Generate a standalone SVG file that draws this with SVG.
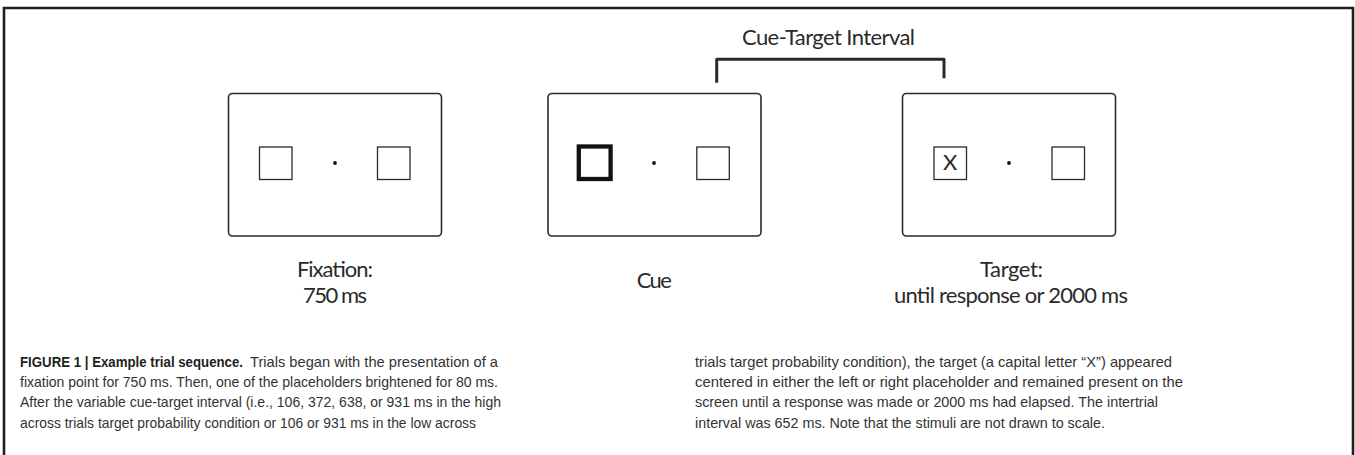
<svg xmlns="http://www.w3.org/2000/svg" width="1355" height="455" viewBox="0 0 1355 455">
<style>
.frame{fill:none;stroke:#2a2a2a;stroke-width:1.6}
.ph{fill:none;stroke:#2a2a2a;stroke-width:1.3}
.phb{fill:none;stroke:#111;stroke-width:4.3}
.dot{fill:#111}
.lbl{font-family:Lato,"Open Sans","Liberation Sans",sans-serif;font-size:22px;fill:#2a2a2a;text-anchor:middle}
.cap{font-family:"Liberation Sans",Arial,sans-serif;font-size:14.5px;fill:#333}
.capb{font-weight:bold;fill:#231f20}
</style>
<rect width="1355" height="455" fill="#fff"/>
<path d="M4,455 V8 H1353 V455" fill="none" stroke="#231f20" stroke-width="2.6"/>
<g id="connectors">
<path d="M716.7,82.7 V59.3 H944 V78.3" fill="none" stroke="#2a2a2a" stroke-width="3" stroke-linejoin="round"/>
<text class="lbl" x="828.5" y="45" font-size="21" textLength="173">Cue-Target Interval</text>
</g>
<g id="fixation">
<rect class="frame" x="228.5" y="93.5" width="213" height="142.5" rx="4"/>
<rect class="ph" x="259.5" y="147" width="32.5" height="32.5"/>
<rect class="ph" x="377.5" y="147" width="32.5" height="32.5"/>
<circle class="dot" cx="335" cy="163" r="1.9"/>
<text class="lbl" x="335" y="276.7" textLength="76">Fixation:</text>
<text class="lbl" x="335" y="302.7" textLength="64">750 ms</text>
</g>
<g id="cue">
<rect class="frame" x="548" y="93.5" width="213" height="142.5" rx="4"/>
<rect class="phb" x="578.8" y="146.5" width="31.8" height="32.5"/>
<rect class="ph" x="696.8" y="147" width="32.5" height="32.5"/>
<circle class="dot" cx="654" cy="163" r="1.9"/>
<text class="lbl" x="654.3" y="288.3" textLength="35">Cue</text>
</g>
<g id="target">
<rect class="frame" x="902.5" y="93.5" width="213" height="142.5" rx="4"/>
<rect class="ph" x="934" y="147" width="32.5" height="32.5"/>
<rect class="ph" x="1052" y="147" width="32.5" height="32.5"/>
<circle class="dot" cx="1009" cy="163" r="1.9"/>
<text class="lbl" x="950.2" y="170" font-size="18">X</text>
<text class="lbl" x="1011.5" y="276.7" textLength="63">Target:</text>
<text class="lbl" x="1011" y="302.7" textLength="234">until response or 2000 ms</text>
</g>
<g id="caption" class="cap">
<text class="capb" x="20" y="366.5" textLength="223" lengthAdjust="spacingAndGlyphs">FIGURE 1 | Example trial sequence.</text>
<text x="250" y="366.5" textLength="248" lengthAdjust="spacingAndGlyphs">Trials began with the presentation of a</text>
<text x="20" y="387" textLength="478" lengthAdjust="spacingAndGlyphs">fixation point for 750 ms. Then, one of the placeholders brightened for 80 ms.</text>
<text x="20" y="407.3" textLength="481" lengthAdjust="spacingAndGlyphs">After the variable cue-target interval (i.e., 106, 372, 638, or 931 ms in the high</text>
<text x="20" y="427.7" textLength="456" lengthAdjust="spacingAndGlyphs">across trials target probability condition or 106 or 931 ms in the low across</text>
<text x="695" y="366.5" textLength="477" lengthAdjust="spacingAndGlyphs">trials target probability condition), the target (a capital letter “X”) appeared</text>
<text x="695" y="387" textLength="488" lengthAdjust="spacingAndGlyphs">centered in either the left or right placeholder and remained present on the</text>
<text x="695" y="407.3" textLength="463" lengthAdjust="spacingAndGlyphs">screen until a response was made or 2000 ms had elapsed. The intertrial</text>
<text x="695" y="427.7" textLength="410" lengthAdjust="spacingAndGlyphs">interval was 652 ms. Note that the stimuli are not drawn to scale.</text>
</g>
</svg>
